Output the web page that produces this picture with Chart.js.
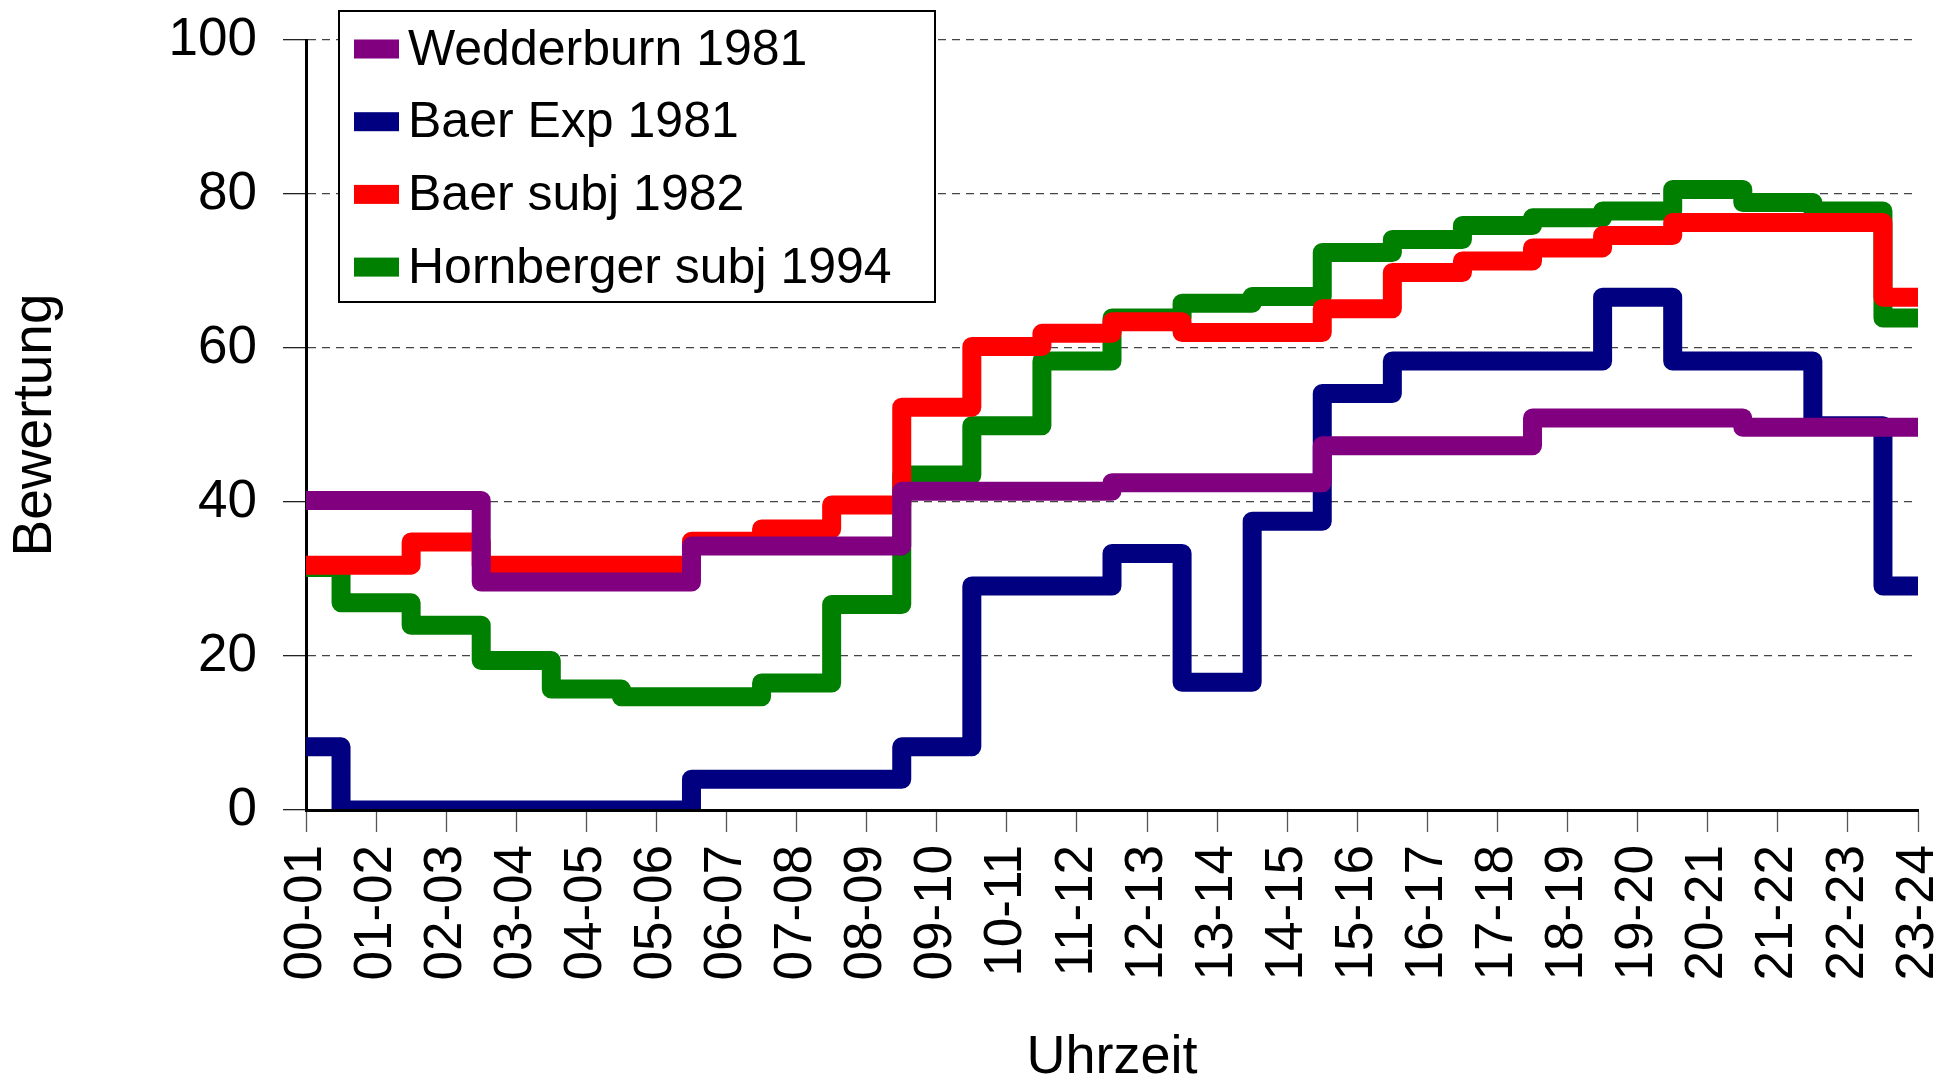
<!DOCTYPE html>
<html>
<head>
<meta charset="utf-8">
<script src="https://cdn.jsdelivr.net/npm/chart.js@4"></script>
<style>
  html, body { margin: 0; padding: 0; background: #fff; }
  #wrap { width: 1959px; height: 1082px; }
</style>
</head>
<body>
<div id="wrap"><canvas id="chart" width="1959" height="1082"></canvas></div>
<script>
// hours of the day
var hours = ['00-01','01-02','02-03','03-04','04-05','05-06','06-07','07-08','08-09','09-10','10-11','11-12',
             '12-13','13-14','14-15','15-16','16-17','17-18','18-19','19-20','20-21','21-22','22-23','23-24'];

var seriesNames = ['Wedderburn 1981', 'Baer Exp 1981', 'Baer subj 1982', 'Hornberger subj 1994'];
var seriesColors = ['#800080', '#000080', '#ff0000', '#008000'];

var wedderburn = [40.2, 40.2, 40.2, 29.6, 29.6, 29.6, 34.3, 34.3, 34.3, 41.4, 41.4, 41.4,
                  42.5, 42.5, 42.5, 47.3, 47.3, 47.3, 50.9, 50.9, 50.9, 49.7, 49.7, 49.7];
var baerExp = [8.2, 0, 0, 0, 0, 0, 4.0, 4.0, 4.0, 8.2, 29.1, 29.1,
               33.3, 16.6, 37.5, 54.1, 58.3, 58.3, 58.3, 66.6, 58.3, 58.3, 49.9, 29.1];
var baerSubj = [31.8, 31.8, 34.8, 31.8, 31.8, 31.8, 34.9, 36.5, 39.6, 52.3, 60.2, 61.9,
                63.4, 62.0, 62.0, 65.1, 69.8, 71.3, 73.0, 74.6, 76.3, 76.3, 76.3, 66.6];
var hornberger = [31.5, 26.9, 24.0, 19.4, 15.7, 14.7, 14.7, 16.5, 26.7, 43.5, 49.9, 58.3,
                  63.9, 65.8, 66.7, 72.4, 74.1, 75.9, 76.9, 77.8, 80.6, 78.9, 77.8, 63.9];

var yTicks = [0, 20, 40, 60, 80, 100];

Chart.defaults.font.family = "'Liberation Sans', Arial, sans-serif";
Chart.defaults.color = '#000';

// legend box drawn inside the plot, like the original
var boxLegend = {
    id: 'boxLegend',
    afterDraw: function(chart) {
        var ctx = chart.ctx;
        var a = chart.chartArea;
        var x = a.left + 33, y = a.top - 29, w = 596, h = 291;
        ctx.save();
        ctx.fillStyle = '#fff';
        ctx.fillRect(x, y, w, h);
        ctx.lineWidth = 2;
        ctx.strokeStyle = '#000';
        ctx.strokeRect(x, y, w, h);
        ctx.font = "50px 'Liberation Sans', Arial, sans-serif";
        ctx.textBaseline = 'middle';
        ctx.textAlign = 'left';
        chart.data.datasets.forEach(function(ds, i) {
            var cy = y + 38 + i * 72.7;
            ctx.fillStyle = ds.borderColor;
            ctx.fillRect(x + 15, cy - 9.5, 45, 19);
            ctx.fillStyle = '#000';
            ctx.fillText(ds.label, x + 69, cy + 2);
        });
        ctx.restore();
    }
};

function makeSet(i, values) {
    return {
        label: seriesNames[i],
        data: values,
        borderColor: seriesColors[i],
        backgroundColor: seriesColors[i],
        borderWidth: 19,
        borderJoinStyle: 'round',
        stepped: 'middle',
        pointRadius: 0,
        fill: false,
        clip: 0
    };
}

var ctx = document.getElementById('chart').getContext('2d');
var myChart = new Chart(ctx, {
    type: 'line',
    data: {
        labels: hours,
        datasets: [
            makeSet(0, wedderburn),
            makeSet(1, baerExp),
            makeSet(2, baerSubj),
            makeSet(3, hornberger)
        ]
    },
    options: {
        responsive: false,
        animation: false,
        layout: { padding: { left: 0, top: 40, right: 41, bottom: 0 } },
        plugins: {
            legend: { display: false },
            tooltip: { enabled: false }
        },
        scales: {
            x: {
                type: 'category',
                offset: false,
                afterFit: function(scale) {
                    scale.height = 272;
                    scale.paddingLeft = 0;
                    scale.paddingRight = 0;
                },
                grid: {
                    drawOnChartArea: false,
                    drawTicks: true,
                    tickLength: 22,
                    tickColor: '#555',
                    tickWidth: 1.3
                },
                border: { display: true, color: '#000', width: 3, z: 1 },
                ticks: {
                    autoSkip: false,
                    minRotation: 90,
                    maxRotation: 90,
                    padding: 13,
                    font: { size: 53 },
                    color: '#000'
                },
                title: {
                    display: true,
                    text: 'Uhrzeit',
                    font: { size: 54, lineHeight: 0.9 },
                    padding: { top: 0, bottom: 0 },
                    color: '#000'
                }
            },
            y: {
                min: 0,
                max: 100,
                afterFit: function(scale) {
                    scale.width = 306;
                    scale.paddingTop = 0;
                    scale.paddingBottom = 0;
                },
                afterBuildTicks: function(scale) {
                    scale.ticks = yTicks.map(function(v) { return { value: v }; });
                },
                grid: {
                    color: '#444',
                    lineWidth: 1.3,
                    drawTicks: true,
                    tickLength: 23,
                    tickColor: '#222',
                    tickWidth: 1.3,
                    tickBorderDash: []
                },
                border: { display: true, color: '#000', width: 3, dash: [8, 6] },
                ticks: {
                    padding: 26,
                    font: { size: 53 },
                    color: '#000'
                },
                title: {
                    display: true,
                    text: 'Bewertung',
                    font: { size: 55, lineHeight: 1.2 },
                    padding: { top: 3, bottom: 0 },
                    color: '#000'
                }
            }
        }
    },
    plugins: [boxLegend]
});
</script>
</body>
</html>
